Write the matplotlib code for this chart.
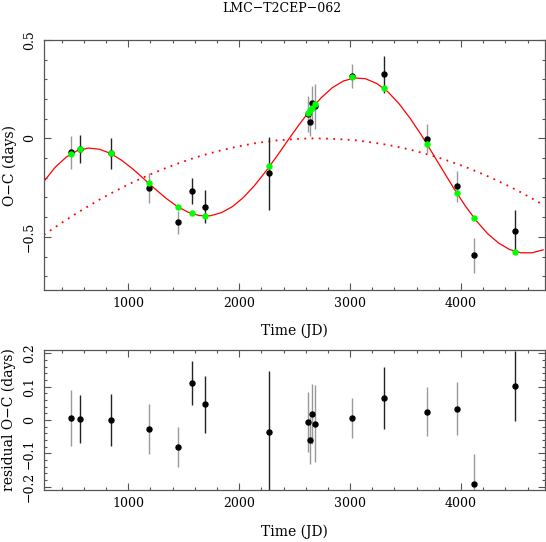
import matplotlib
matplotlib.use('Agg')
import matplotlib.pyplot as plt
from matplotlib.ticker import MultipleLocator, FuncFormatter

plt.rcParams['font.family'] = 'DejaVu Serif'

# observations (JD offset), O-C, errors, fitted model at obs times, residuals
t_obs = [485, 568, 847, 1184, 1448, 1574, 1688, 2270, 2622, 2640, 2658, 2682,
         3015, 3303, 3694, 3964, 4114, 4484]
oc_obs = [-0.071, -0.053, -0.076, -0.252, -0.427, -0.269, -0.347, -0.178, 0.124, 0.083,
          0.178, 0.164, 0.316, 0.325, -0.002, -0.244, -0.594, -0.471]
oc_err = [0.085, 0.072, 0.077, 0.074, 0.059, 0.066, 0.085, 0.184, 0.090, 0.070, 0.090,
          0.115, 0.060, 0.093, 0.074, 0.080, 0.090, 0.105]
oc_model = [-0.078, -0.056, -0.076, -0.225, -0.347, -0.381, -0.394, -0.142, 0.130, 0.144,
            0.157, 0.173, 0.310, 0.257, -0.027, -0.279, -0.405, -0.575]
resid = [0.006, 0.003, 0.000, -0.027, -0.081, 0.111, 0.047, -0.036, -0.006, -0.061,
         0.018, -0.011, 0.007, 0.065, 0.025, 0.034, -0.192, 0.103]
dark_bar = [False, True, True, False, False, True, True, True, False, False, False, False,
            False, True, False, False, False, True]

# fitted curve (solid) and long-term trend (dotted)
t_fit = [240, 340, 440, 540, 640, 740, 840, 940, 1040, 1140,
         1240, 1340, 1440, 1540, 1640, 1740, 1840, 1940, 2040, 2140,
         2240, 2340, 2440, 2540, 2640, 2740, 2840, 2940, 3040, 3140,
         3240, 3340, 3440, 3540, 3640, 3740, 3840, 3940, 4040, 4140,
         4240, 4340, 4440, 4540, 4640, 4740]
oc_fit = [-0.218, -0.147, -0.095, -0.062, -0.049, -0.055, -0.076, -0.111, -0.155, -0.205,
          -0.256, -0.304, -0.345, -0.375, -0.392, -0.393, -0.377, -0.346, -0.299, -0.238,
          -0.167, -0.090, -0.009, 0.070, 0.144, 0.207, 0.258, 0.292, 0.307, 0.303,
          0.279, 0.237, 0.177, 0.103, 0.019, -0.073, -0.166, -0.258, -0.344, -0.420,
          -0.484, -0.532, -0.565, -0.581, -0.581, -0.566]
oc_trend = [-0.490, -0.451, -0.414, -0.378, -0.344, -0.311, -0.280, -0.251, -0.223, -0.197,
            -0.173, -0.150, -0.129, -0.109, -0.091, -0.075, -0.060, -0.047, -0.035, -0.025,
            -0.017, -0.010, -0.006, -0.002, 0.000, 0.000, -0.002, -0.005, -0.009, -0.016,
            -0.024, -0.033, -0.044, -0.057, -0.072, -0.088, -0.105, -0.125, -0.145, -0.168,
            -0.192, -0.218, -0.245, -0.274, -0.305, -0.337]

W, H = 546, 542
fig = plt.figure(figsize=(W / 100, H / 100), dpi=100)
ax1 = fig.add_axes([44 / W, 1 - 290 / H, 501 / W, 250 / H])
ax2 = fig.add_axes([44 / W, 1 - 490 / H, 501 / W, 140 / H])

fmt = FuncFormatter(lambda v, p: ('%g' % round(v, 3)).replace('-', '\u2212'))
frame = '#555555'

for ax in (ax1, ax2):
    ax.set_xlim(240, 4757)
    ax.xaxis.set_major_locator(MultipleLocator(1000))
    ax.xaxis.set_minor_locator(MultipleLocator(200))
    ax.yaxis.set_major_formatter(fmt)
    ax.tick_params(which='both', direction='in', top=True, right=True, color=frame,
                   labelsize=9)
    ax.tick_params(which='major', length=5, width=0.8)
    ax.tick_params(which='minor', length=2.5, width=0.8)
    ax.tick_params(axis='y', pad=6)
    ax.tick_params(axis='x', pad=5)
    for s in ax.spines.values():
        s.set_color(frame)
        s.set_linewidth(0.9)

# top panel
ax1.set_ylim(-0.77, 0.5)
ax1.yaxis.set_major_locator(MultipleLocator(0.5))
ax1.yaxis.set_minor_locator(MultipleLocator(0.1))
ax1.plot(t_fit, oc_trend, color='red', lw=1.3, linestyle=(0, (1, 3)))
ax1.plot(t_fit, oc_fit, color='red', lw=0.9)
for i in range(len(t_obs)):
    c = '#222222' if dark_bar[i] else '#999999'
    ax1.errorbar(t_obs[i], oc_obs[i], yerr=oc_err[i], fmt='none', ecolor=c, elinewidth=1.0)
ax1.plot(t_obs, oc_obs, 'o', color='black', ms=3.6, zorder=4)
ax1.plot(t_obs, oc_model, 'o', color='#00ff00', ms=3.6, zorder=5)
ax1.set_xlabel('Time (JD)', fontsize=10)
ax1.xaxis.set_label_coords(0.5, -0.135)

# bottom panel
ax2.set_ylim(-0.21, 0.21)
ax2.yaxis.set_major_locator(MultipleLocator(0.1))
ax2.yaxis.set_minor_locator(MultipleLocator(0.02))
for i in range(len(t_obs)):
    c = '#222222' if dark_bar[i] else '#999999'
    ax2.errorbar(t_obs[i], resid[i], yerr=oc_err[i], fmt='none', ecolor=c, elinewidth=1.0)
ax2.plot(t_obs, resid, 'o', color='black', ms=3.6, zorder=4)
ax2.set_xlabel('Time (JD)', fontsize=10)
ax2.xaxis.set_label_coords(0.5, -0.25)

for ax in (ax1, ax2):
    for lbl in ax.get_yticklabels():
        lbl.set_rotation(90)
        lbl.set_va('center')

fig.text(10 / W, 1 - 165 / H, 'O\u2212C (days)', rotation=90, ha='center', va='center',
         fontsize=10)
fig.text(9 / W, 1 - 420 / H, 'residual O\u2212C (days)', rotation=90, ha='center',
         va='center', fontsize=10)
fig.text(282 / W, 1 - 8 / H, 'LMC\u2212T2CEP\u2212062', ha='center', va='center', fontsize=9)

fig.savefig('out.png', dpi=100)
